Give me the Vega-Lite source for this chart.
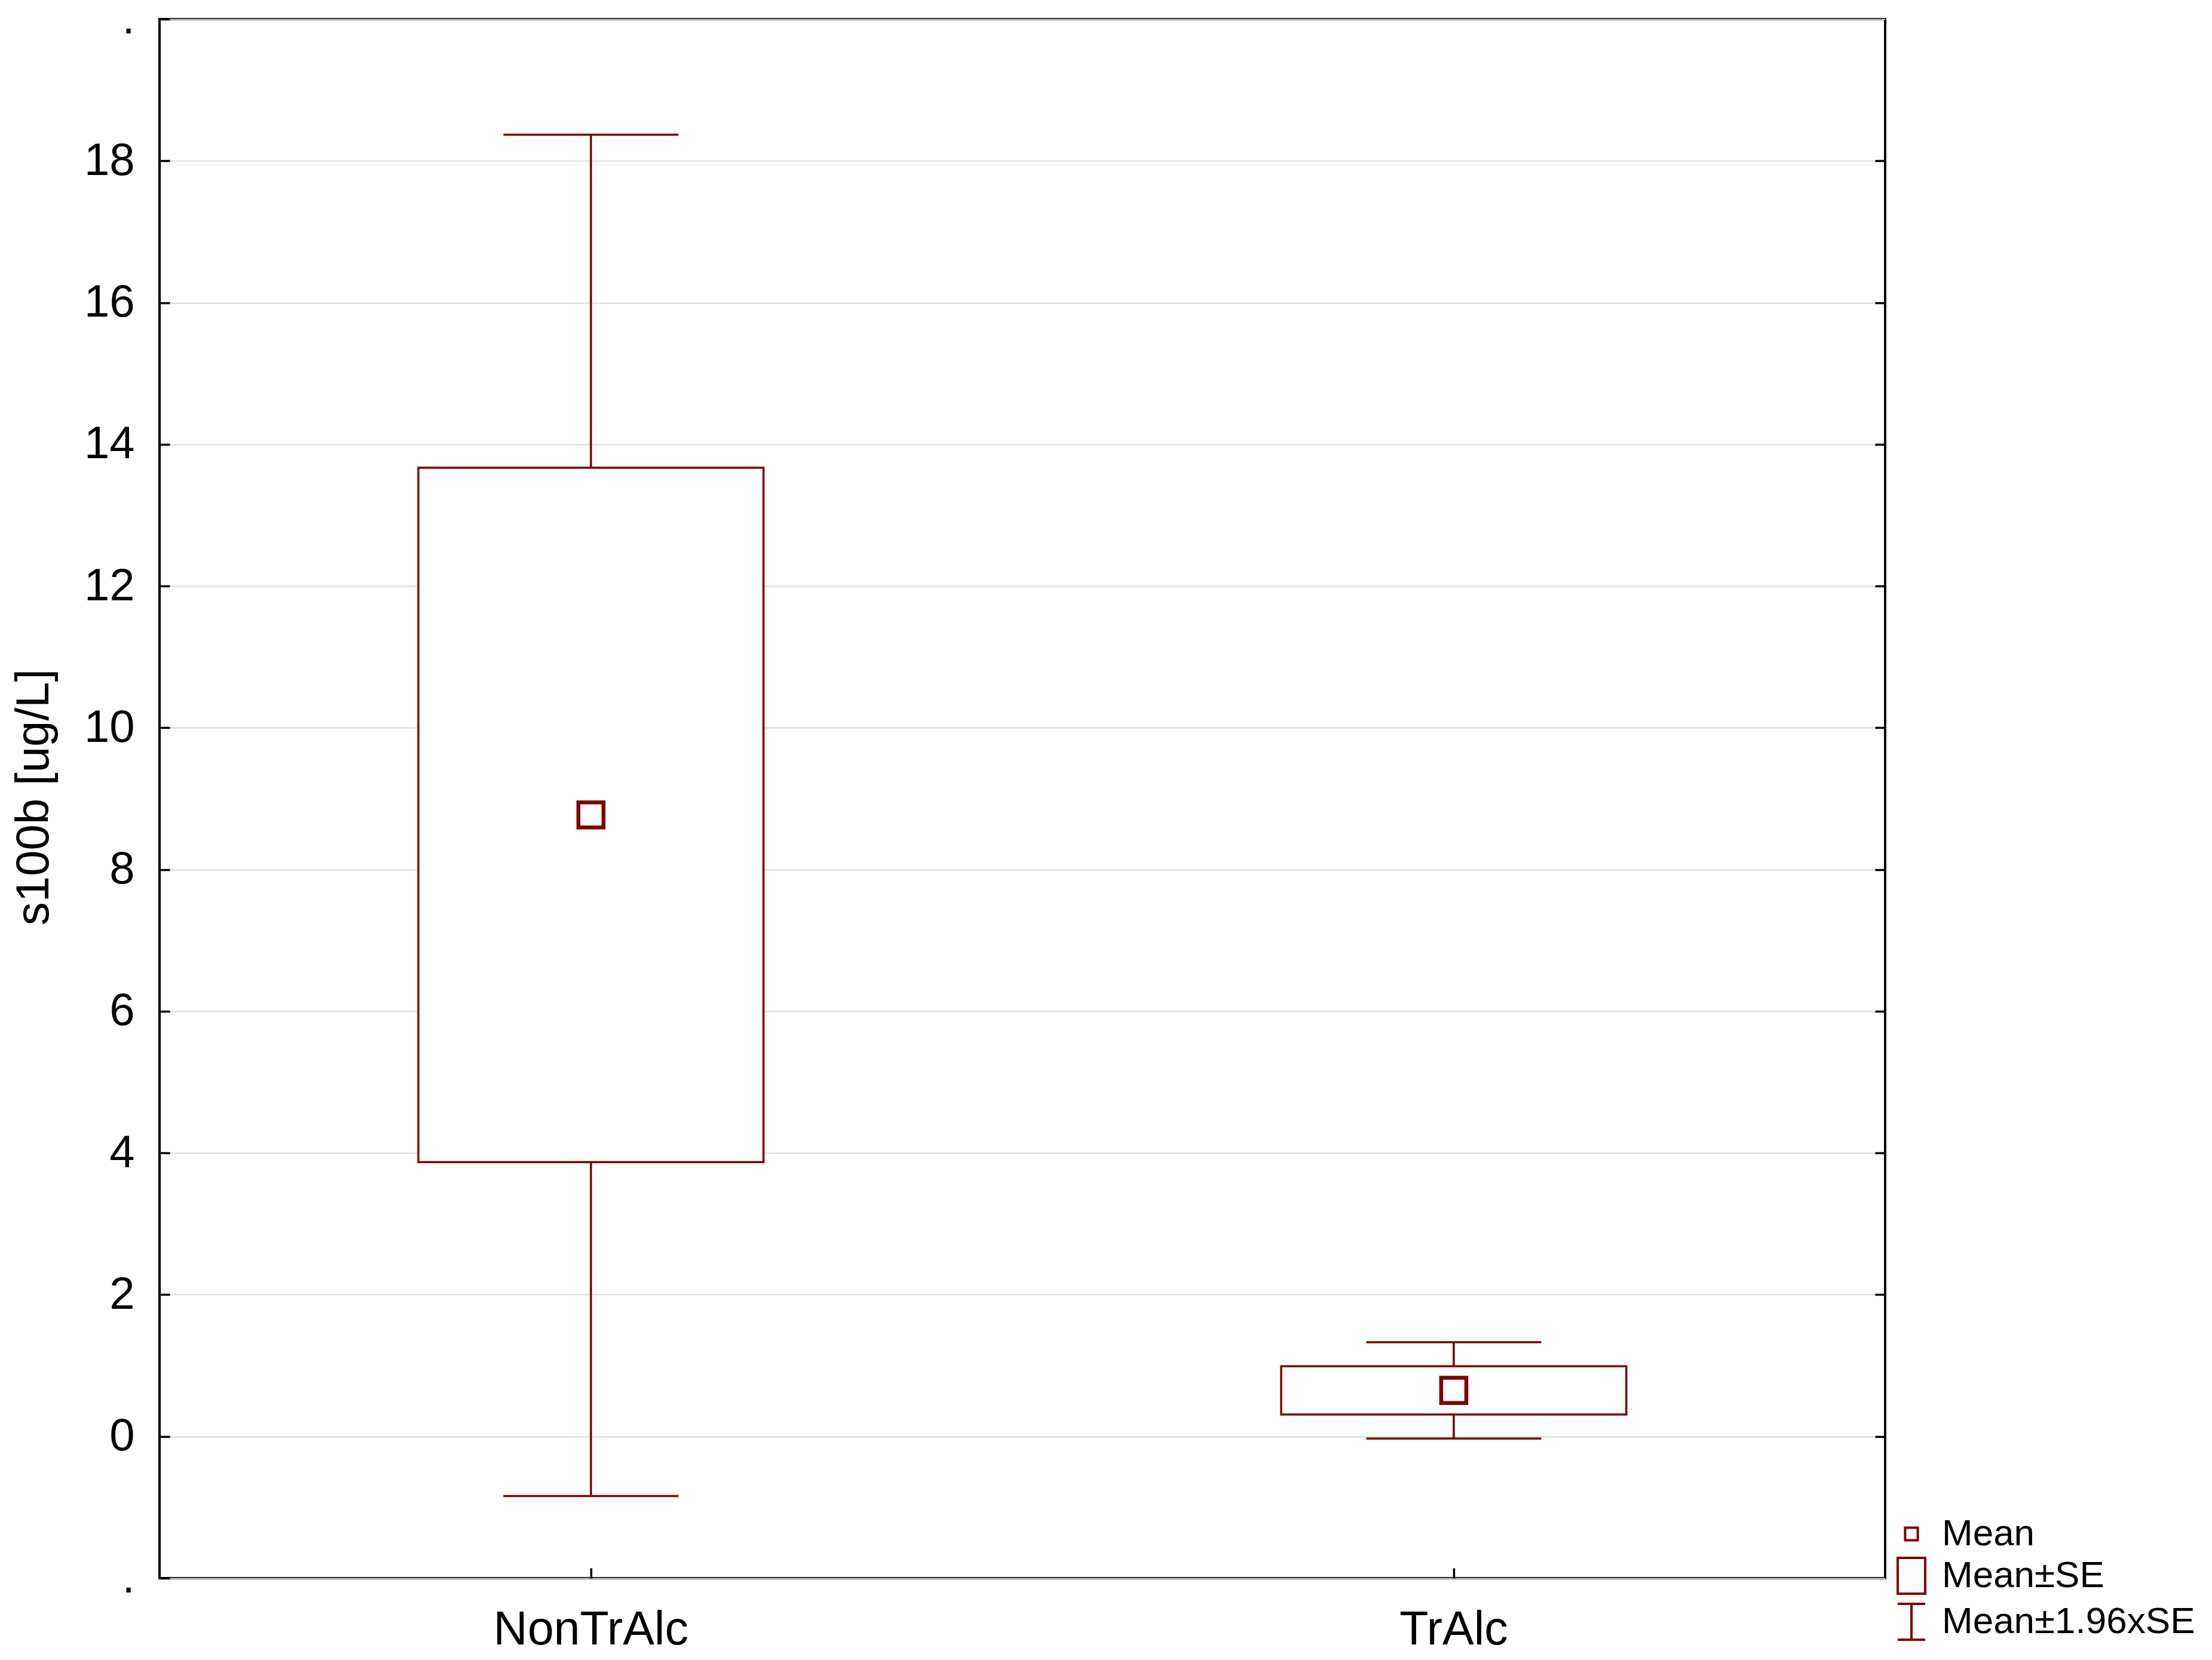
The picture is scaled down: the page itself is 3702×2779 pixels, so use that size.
{
  "$schema": "https://vega.github.io/schema/vega-lite/v6.json",
  "width": 2888,
  "height": 2610,
  "autosize": "none",
  "padding": {"left": 267, "top": 32, "right": 547, "bottom": 137},
  "background": "white",
  "data": {
    "values": [
      {"group": "NonTrAlc", "mean": 8.77, "seLow": 3.87, "seHigh": 13.67, "ciLow": -0.84, "ciHigh": 18.37},
      {"group": "TrAlc", "mean": 0.65, "seLow": 0.31, "seHigh": 0.99, "ciLow": -0.03, "ciHigh": 1.33}
    ]
  },
  "encoding": {
    "x": {
      "field": "group",
      "type": "nominal",
      "sort": ["NonTrAlc", "TrAlc"],
      "scale": {"paddingInner": 0, "paddingOuter": 0},
      "axis": {
        "title": null,
        "orient": "bottom",
        "domain": false,
        "grid": false,
        "ticks": true,
        "tickSize": -17,
        "tickWidth": 3.5,
        "tickColor": "#000",
        "labelAngle": 0,
        "labelFont": "Liberation Sans",
        "labelFontSize": 79,
        "labelColor": "#000",
        "labelPadding": 65,
        "labelLimit": 2000
      }
    }
  },
  "layer": [
    {
      "mark": {"type": "rule", "color": "#800000", "strokeWidth": 3.5},
      "encoding": {
        "y": {
          "field": "ciLow",
          "type": "quantitative",
          "scale": {"domain": [-2, 20], "nice": false, "zero": false},
          "axis": {
            "orient": "right",
            "labels": false,
            "title": null,
            "grid": false,
            "domain": false,
            "values": [0, 2, 4, 6, 8, 10, 12, 14, 16, 18],
            "tickSize": -17,
            "tickWidth": 3.5,
            "tickColor": "#000"
          }
        },
        "y2": {"field": "ciHigh"}
      }
    },
    {
      "mark": {"type": "tick", "color": "#800000", "size": 293, "thickness": 3.5, "orient": "horizontal", "opacity": 1},
      "encoding": {
        "y": {"field": "ciHigh", "type": "quantitative", "scale": {"domain": [-2, 20], "nice": false, "zero": false}, "axis": null}
      }
    },
    {
      "mark": {"type": "tick", "color": "#800000", "size": 293, "thickness": 3.5, "orient": "horizontal", "opacity": 1},
      "encoding": {
        "y": {"field": "ciLow", "type": "quantitative", "scale": {"domain": [-2, 20], "nice": false, "zero": false}, "axis": null}
      }
    },
    {
      "mark": {"type": "bar", "fill": "white", "stroke": "#800000", "strokeWidth": 3.5, "width": {"band": 0.4}, "opacity": 1},
      "encoding": {
        "y": {
          "field": "seLow",
          "type": "quantitative",
          "scale": {"domain": [-2, 20], "nice": false, "zero": false},
          "axis": {
            "orient": "left",
            "title": "s100b [ug/L]",
            "titleFont": "Liberation Sans",
            "titleFontSize": 78,
            "titleFontWeight": "normal",
            "titleColor": "#000",
            "titleAngle": -90,
            "titleAlign": "center",
            "titleBaseline": "middle",
            "titleX": -210,
            "titleY": 1302,
            "values": [-2, 0, 2, 4, 6, 8, 10, 12, 14, 16, 18, 20],
            "labelExpr": "datum.value == 20 || datum.value == -2 ? '.' : datum.label",
            "labelFont": "Liberation Sans",
            "labelFontSize": 76,
            "labelColor": "#000",
            "labelPadding": 59,
            "labelFlush": false,
            "labelOverlap": false,
            "labelBound": false,
            "domain": false,
            "grid": true,
            "gridColor": "#d9d9d9",
            "gridWidth": 2,
            "tickSize": -17,
            "tickWidth": 3.5,
            "tickColor": "#000"
          }
        },
        "y2": {"field": "seHigh"}
      }
    },
    {
      "mark": {"type": "point", "filled": false, "color": "#800000", "strokeWidth": 6.5, "size": 21000, "opacity": 1},
      "encoding": {
        "y": {"field": "mean", "type": "quantitative", "scale": {"domain": [-2, 20], "nice": false, "zero": false}, "axis": null},
        "shape": {
          "datum": "Mean",
          "type": "nominal",
          "scale": {
            "domain": ["Mean", "Mean±SE", "Mean±1.96xSE"],
            "range": [
              "M-0.29,-0.29H0.29V0.29H-0.29Z",
              "M-0.63,-0.82H0.63V0.82H-0.63Z",
              "M-0.63,-0.82H0.63M0,-0.82V0.82M-0.63,0.82H0.63"
            ]
          },
          "legend": {
            "orient": "none",
            "legendX": 2893,
            "legendY": 2497,
            "title": null,
            "symbolSize": 5330,
            "symbolStrokeColor": "#800000",
            "symbolFillColor": "transparent",
            "symbolStrokeWidth": 4,
            "symbolOpacity": 1,
            "labelFont": "Liberation Sans",
            "labelFontSize": 62,
            "labelColor": "#000",
            "labelOffset": 12,
            "labelLimit": 1000,
            "rowPadding": 0,
            "padding": 0
          }
        }
      }
    }
  ],
  "resolve": {"axis": {"y": "independent"}},
  "config": {
    "view": {"stroke": "#000", "strokeWidth": 4, "fill": "white"},
    "axis": {"labelFont": "Liberation Sans"}
  }
}
